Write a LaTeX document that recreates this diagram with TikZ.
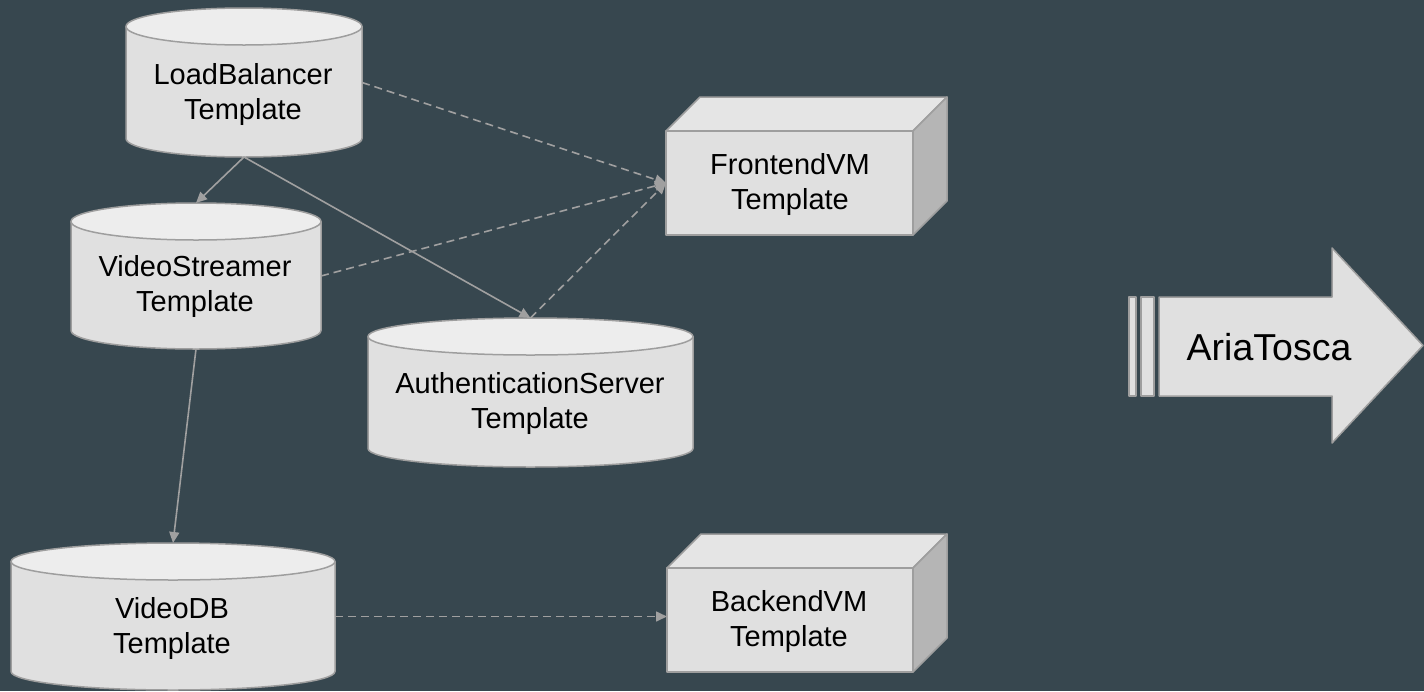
\documentclass[tikz,border=0pt]{standalone}
\usepackage{fontspec}
\setmainfont{Liberation Sans}
\usetikzlibrary{arrows.meta}
\definecolor{bg}{HTML}{37474F}
\definecolor{edge}{HTML}{9E9E9E}
\definecolor{bodyc}{HTML}{E0E0E0}
\definecolor{lidc}{HTML}{EDEDED}
\definecolor{sidec}{HTML}{B5B5B5}
\definecolor{topc}{HTML}{E5E5E5}
\definecolor{conn}{HTML}{A0A0A0}
\tikzset{
  shapeline/.style={draw=edge, line width=1.5pt, line join=round},
  boxnode/.style={rectangle, inner sep=0pt, outer sep=0pt, draw=none},
  lbl/.style={align=center, font=\fontsize{29}{35}\selectfont, text=black, inner sep=0pt},
  biglbl/.style={font=\fontsize{37.5}{42}\selectfont, text=black, inner sep=0pt},
  solidlink/.style={draw=conn, line width=1.6pt, -{Triangle[length=11pt,width=10pt]}},
  dashlink/.style={solidlink, dash pattern=on 8pt off 5pt},
}
\newcommand\mycyl[5]{%
  \pgfmathsetmacro\cxx{(#1+#3)/2}%
  \pgfmathsetmacro\caa{(#3-#1)/2}%
  \pgfmathsetmacro\cww{#3-#1}%
  \pgfmathsetmacro\chh{#4-#2}%
  \pgfmathsetmacro\cyy{-(#2+#4)/2}%
  \pgfmathsetmacro\ctop{-(#2+18.5)}%
  \pgfmathsetmacro\cbot{-(#4-18.5)}%
  \path[shapeline, fill=bodyc] (#1,\ctop) -- (#1,\cbot) arc[start angle=180, end angle=360, x radius=\caa pt, y radius=18.5pt] -- (#3,\ctop) -- cycle;
  \path[shapeline, fill=lidc] (\cxx,\ctop) ellipse[x radius=\caa pt, y radius=18.5pt];
  \node[boxnode, minimum width=\cww pt, minimum height=\chh pt] (#5) at (\cxx,\cyy) {};
}
\newcommand\mycube[5]{%
  \pgfmathsetmacro\cxx{(#1+#3)/2}%
  \pgfmathsetmacro\cww{#3-#1}%
  \pgfmathsetmacro\chh{#4-#2}%
  \pgfmathsetmacro\cyy{-(#2+#4)/2}%
  \path[shapeline, fill=topc] (#1,-#2) -- ({#1+34},{-(#2-34)}) -- ({#3+34},{-(#2-34)}) -- (#3,-#2) -- cycle;
  \path[shapeline, fill=sidec] (#3,-#2) -- ({#3+34},{-(#2-34)}) -- ({#3+34},{-(#4-34)}) -- (#3,-#4) -- cycle;
  \node[boxnode, shapeline, fill=bodyc, minimum width=\cww pt, minimum height=\chh pt] (#5) at (\cxx,\cyy) {};
}
\begin{document}
\begin{tikzpicture}[x=1pt,y=1pt]
\useasboundingbox (0,0) rectangle (1424,-691);
\fill[bg] (0,0) rectangle (1424,-691);

\mycyl{126}{8}{362}{157}{lb}
\mycyl{71}{203}{321}{349}{vs}
\mycyl{368}{318}{693}{467}{auth}
\mycyl{11}{543}{335}{690}{vdb}
\mycube{666}{131}{913}{235}{fe}
\mycube{667}{568}{913}{672}{be}

\node[lbl] (lbt) at (243,-94) {LoadBalancer\\Template};
\node[lbl] (vst) at (195,-286.5) {VideoStreamer\\Template};
\node[lbl] (autht) at (530,-403.5) {AuthenticationServer\\Template};
\node[lbl] (vdbt) at (172,-628) {VideoDB\\Template};
\node[lbl] (fet) at (790,-184.5) {FrontendVM\\Template};
\node[lbl] (bet) at (789,-621.5) {BackendVM\\Template};

\draw[solidlink] (lb.south) -- (vs.north);
\draw[solidlink] (lb.south) -- (auth.north);
\draw[solidlink] (vs.south) -- (vdb.north);
\draw[dashlink] (lb.east) -- (fe.west);
\draw[dashlink] (vs.east) -- (fe.west);
\draw[dashlink] (auth.north) -- (fe.west);
\draw[dashlink] (vdb.east) -- (vdb.east -| be.west);

% AriaTosca arrow
\path[shapeline, fill=bodyc] (1129,-297) rectangle (1136,-396);
\path[shapeline, fill=bodyc] (1141,-297) rectangle (1154,-396);
\path[shapeline, fill=bodyc] (1159,-297) -- (1332,-297) -- (1332,-248) -- (1423,-345.5) -- (1332,-443) -- (1332,-396) -- (1159,-396) -- cycle;
\node[biglbl] (aria) at (1269,-347) {AriaTosca};
\end{tikzpicture}
\end{document}
